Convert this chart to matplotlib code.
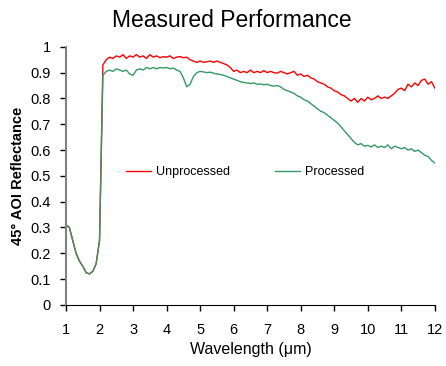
import numpy as np
import matplotlib.pyplot as plt

plt.rcParams["font.family"] = ["Liberation Sans", "DejaVu Sans"]

# wavelength grid, 0.1 um steps from 1 to 12
wavelength = np.round(np.arange(1.0, 12.01, 0.1), 1)

unprocessed = [
    0.31, 0.30, 0.25, 0.20, 0.17, 0.15, 0.125, 0.12, 0.13, 0.16,
    0.25, 0.93, 0.95, 0.96, 0.955, 0.965, 0.96, 0.97, 0.955, 0.965,
    0.96, 0.97, 0.96, 0.965, 0.955, 0.97, 0.96, 0.965, 0.958, 0.962,
    0.96, 0.965, 0.955, 0.96, 0.962, 0.958, 0.96, 0.95, 0.945, 0.94,
    0.945, 0.94, 0.942, 0.945, 0.94, 0.945, 0.94, 0.935, 0.93, 0.92,
    0.905, 0.91, 0.90, 0.905, 0.90, 0.91, 0.90, 0.905, 0.90, 0.908,
    0.90, 0.905, 0.90, 0.898, 0.905, 0.90, 0.895, 0.90, 0.905, 0.89,
    0.895, 0.885, 0.89, 0.88, 0.875, 0.865, 0.86, 0.855, 0.845, 0.84,
    0.83, 0.825, 0.815, 0.81, 0.80, 0.79, 0.80, 0.785, 0.80, 0.79,
    0.805, 0.795, 0.80, 0.81, 0.80, 0.805, 0.80, 0.81, 0.82, 0.835,
    0.84, 0.83, 0.855, 0.845, 0.86, 0.85, 0.87, 0.875, 0.855, 0.865,
    0.84,
]

processed = [
    0.31, 0.30, 0.25, 0.20, 0.17, 0.15, 0.125, 0.12, 0.13, 0.16,
    0.25, 0.89, 0.905, 0.91, 0.905, 0.915, 0.91, 0.905, 0.91, 0.895,
    0.89, 0.91, 0.915, 0.91, 0.92, 0.915, 0.92, 0.915, 0.92, 0.918,
    0.92, 0.915, 0.918, 0.91, 0.905, 0.88, 0.845, 0.855, 0.885, 0.90,
    0.905, 0.903, 0.90, 0.902, 0.898, 0.895, 0.893, 0.89, 0.885, 0.88,
    0.875, 0.87, 0.865, 0.862, 0.86, 0.858, 0.86, 0.855, 0.856, 0.853,
    0.855, 0.85, 0.848, 0.85, 0.845, 0.835, 0.83, 0.825, 0.82, 0.81,
    0.805, 0.795, 0.79, 0.78, 0.77, 0.76, 0.75, 0.745, 0.735, 0.725,
    0.715, 0.705, 0.69, 0.675, 0.66, 0.645, 0.63, 0.62, 0.625, 0.615,
    0.618, 0.612, 0.62, 0.61, 0.615, 0.61, 0.62, 0.605, 0.615, 0.61,
    0.605, 0.61, 0.60, 0.605, 0.595, 0.60, 0.59, 0.58, 0.575, 0.56,
    0.55,
]

x_ticks = list(range(1, 13))
y_ticks = [0, 0.1, 0.2, 0.3, 0.4, 0.5, 0.6, 0.7, 0.8, 0.9, 1]
y_labels = ["0", "0.1", "0.2", "0.3", "0.4", "0.5", "0.6", "0.7", "0.8", "0.9", "1"]

fig = plt.figure(figsize=(4.46, 3.66), dpi=100)
ax = fig.add_axes([0.148, 0.167, 0.827, 0.705])

ax.plot(wavelength, unprocessed, color="#FF0000", lw=1.0, label="Unprocessed")
ax.plot(wavelength, processed, color="#339966", lw=1.0, label="Processed")

ax.set_xlim(1, 12)
ax.set_ylim(0, 1)
ax.set_xticks(x_ticks)
ax.set_yticks(y_ticks)
ax.set_yticklabels(y_labels)
ax.tick_params(direction="out", length=4, labelsize=10.5, width=1)
ax.tick_params(axis="y", pad=7)
ax.tick_params(axis="x", pad=9)

for s in ["top", "right"]:
    ax.spines[s].set_visible(False)
ax.spines["left"].set_color("#808080")
ax.spines["left"].set_linewidth(1.5)
ax.spines["bottom"].set_color("black")

ax.set_xlabel("Wavelength (\u03bcm)", fontsize=11.5, labelpad=4)
ax.set_ylabel("45\u00b0 AOI Reflectance", fontsize=10.5, fontweight="bold", labelpad=4)
fig.text(0.52, 0.975, "Measured Performance", fontsize=16.5, ha="center", va="top")

ax.legend(loc="center", bbox_to_anchor=(0.485, 0.515), ncol=2, frameon=False,
          fontsize=9, handlelength=2, columnspacing=3.6, handletextpad=0.4)

fig.savefig("out.png", dpi=100)
